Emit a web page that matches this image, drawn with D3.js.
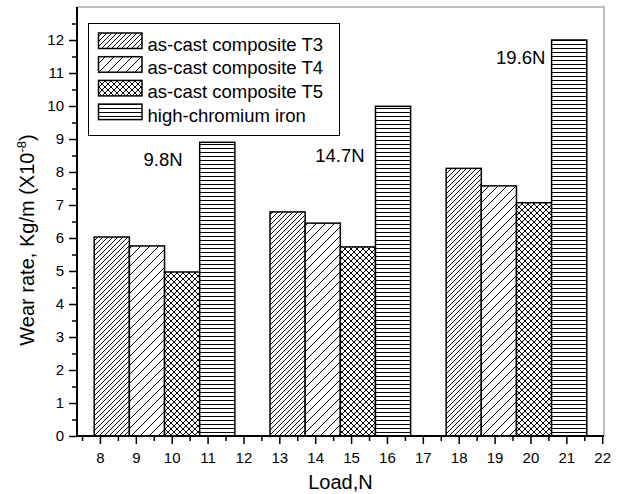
<!DOCTYPE html>
<html>
<head>
<meta charset="utf-8">
<script src="https://cdn.jsdelivr.net/npm/d3@7"></script>
<style>
body { margin: 0; background: #fff; }
svg { font-family: Arial, "Liberation Sans", sans-serif; }
</style>
</head>
<body>
<div id="chart"></div>
<script>
// series names (legend order)
var categories = ["as-cast composite T3", "as-cast composite T4", "as-cast composite T5", "high-chromium iron"];
var loadLabels = ["9.8N", "14.7N", "19.6N"];

// bar centres on the Load axis, one array per series
var xT3 = [8.33, 13.23, 18.14];
var xT4 = [9.31, 14.21, 19.12];
var xT5 = [10.29, 15.19, 20.10];
var xHC = [11.27, 16.17, 21.08];

// wear rate, Kg/m (x10^-8)
var valT3 = [6.03, 6.79, 8.11];
var valT4 = [5.76, 6.45, 7.58];
var valT5 = [4.97, 5.73, 7.07];
var valHC = [8.90, 9.99, 12.00];

// where the load labels sit (data coords)
var labelX = [9.76, 14.69, 19.73];
var labelY = [8.18, 8.30, 11.27];

var xTicks = d3.range(8, 23, 1);
var yTicks = d3.range(0, 13, 1);

var w = 618, h = 494;
var pLeft = 77, pTop = 7, pRight = 604, pBottom = 436;
var barWidth = 0.98;

var svg = d3.select("#chart").append("svg")
	.attr("width", w)
	.attr("height", h);

var x = d3.scaleLinear().domain([7.36, 22.05]).range([pLeft, pRight]);
var y = d3.scaleLinear().domain([0, 13]).range([pBottom, pTop]);

// patterns
var defs = svg.append("defs");
function diag(id, s) {
	var p = defs.append("pattern").attr("id", id)
		.attr("patternUnits", "userSpaceOnUse")
		.attr("width", s).attr("height", s);
	p.append("path")
		.attr("d", "M0," + s + "L" + s + ",0M-1,1L1,-1M" + (s - 1) + "," + (s + 1) + "L" + (s + 1) + "," + (s - 1))
		.attr("stroke", "#000").attr("stroke-width", 1).attr("fill", "none");
}
diag("pT3", 5);
diag("pT4", 9);
var pc = defs.append("pattern").attr("id", "pT5")
	.attr("patternUnits", "userSpaceOnUse").attr("width", 6).attr("height", 6);
pc.append("path")
	.attr("d", "M0,6L6,0M-1,1L1,-1M5,7L7,5M0,0L6,6M-1,5L1,7M5,-1L7,1")
	.attr("stroke", "#000").attr("stroke-width", 1).attr("fill", "none");
var ph = defs.append("pattern").attr("id", "pHC")
	.attr("patternUnits", "userSpaceOnUse").attr("width", 8).attr("height", 4);
ph.append("line").attr("x1", 0).attr("x2", 8).attr("y1", 0.5).attr("y2", 0.5)
	.attr("stroke", "#000").attr("stroke-width", 1);

var fills = ["url(#pT3)", "url(#pT4)", "url(#pT5)", "url(#pHC)"];
var xs = [xT3, xT4, xT5, xHC];
var vals = [valT3, valT4, valT5, valHC];

// frame (top/right)
svg.append("path")
	.attr("d", "M" + pLeft + "," + pTop + "H" + pRight + "V" + pBottom)
	.attr("fill", "none").attr("stroke", "#aaa").attr("stroke-width", 1.5);

// bars
for (var s = 0; s < 4; s++) {
	var rows = xs[s].map(function (d, i) { return { x: d, v: vals[s][i] }; });
	svg.append("g").selectAll("rect")
		.data(rows)
		.enter()
		.append("rect")
		.attr("x", function (d) { return x(d.x - barWidth / 2); })
		.attr("width", function (d) { return x(d.x + barWidth / 2) - x(d.x - barWidth / 2); })
		.attr("y", function (d) { return y(d.v); })
		.attr("height", function (d) { return y(0) - y(d.v); })
		.attr("fill", "#fff")
		.attr("stroke", "none");
	svg.append("g").selectAll("rect")
		.data(rows)
		.enter()
		.append("rect")
		.attr("x", function (d) { return x(d.x - barWidth / 2); })
		.attr("width", function (d) { return x(d.x + barWidth / 2) - x(d.x - barWidth / 2); })
		.attr("y", function (d) { return y(d.v); })
		.attr("height", function (d) { return y(0) - y(d.v); })
		.attr("fill", fills[s])
		.attr("stroke", "#000")
		.attr("stroke-width", 1.5);
}

// axes
var yMinor = svg.append("g").attr("transform", "translate(" + pLeft + ",0)")
	.call(d3.axisLeft(y).tickValues(d3.range(0.5, 13, 1)).tickSize(5).tickFormat(""));
var yAxis = svg.append("g").attr("transform", "translate(" + pLeft + ",0)")
	.call(d3.axisLeft(y).tickValues(yTicks).tickSize(8).tickPadding(5).tickFormat(d3.format("d")));
var xMinor = svg.append("g").attr("transform", "translate(0," + pBottom + ")")
	.call(d3.axisBottom(x).tickValues(d3.range(7.5, 22, 1)).tickSize(5).tickFormat(""));
var xAxis = svg.append("g").attr("transform", "translate(0," + pBottom + ")")
	.call(d3.axisBottom(x).tickValues(xTicks).tickSize(8).tickPadding(8).tickFormat(d3.format("d")));

[yMinor, yAxis, xMinor, xAxis].forEach(function (g) {
	g.select(".domain").remove();
	g.selectAll("line").attr("stroke", "#000").attr("stroke-width", 1.5);
	g.selectAll("text").attr("font-size", 15).attr("fill", "#000")
		.attr("font-family", "Arial, 'Liberation Sans', sans-serif");
});
svg.append("path")
	.attr("d", "M" + pLeft + "," + pTop + "V" + pBottom + "H" + pRight)
	.attr("fill", "none").attr("stroke", "#000").attr("stroke-width", 2);

// load labels
svg.selectAll(".load")
	.data(loadLabels)
	.enter()
	.append("text")
	.attr("class", "load")
	.attr("x", function (d, i) { return x(labelX[i]); })
	.attr("y", function (d, i) { return y(labelY[i]); })
	.attr("text-anchor", "middle")
	.attr("font-size", 18.5)
	.text(function (d) { return d; });

// legend
var lg = svg.append("g");
lg.append("rect").attr("x", 88.5).attr("y", 23.5).attr("width", 251).attr("height", 112)
	.attr("fill", "#fff").attr("stroke", "#000").attr("stroke-width", 1);
categories.forEach(function (c, i) {
	var yy = 33 + i * 23.7;
	lg.append("rect").attr("x", 98.5).attr("y", yy).attr("width", 43.5).attr("height", 15.5)
		.attr("fill", "#fff");
	lg.append("rect").attr("x", 98.5).attr("y", yy).attr("width", 43.5).attr("height", 15.5)
		.attr("fill", fills[i]).attr("stroke", "#000").attr("stroke-width", 1.5);
	lg.append("text").attr("x", 147.5).attr("y", yy + 17.5).attr("font-size", 18.5).text(c);
});

// axis titles
svg.append("text")
	.attr("x", (pLeft + pRight) / 2)
	.attr("y", 489)
	.attr("text-anchor", "middle")
	.attr("font-size", 20)
	.text("Load,N");

var yt = svg.append("text")
	.attr("transform", "translate(34,240) rotate(-90)")
	.attr("text-anchor", "middle")
	.attr("font-size", 20);
yt.append("tspan").text("Wear rate, Kg/m (X10");
yt.append("tspan").attr("font-size", 13).attr("dy", -8).text("-8");
yt.append("tspan").attr("dy", 8).text(")");
</script>
</body>
</html>
